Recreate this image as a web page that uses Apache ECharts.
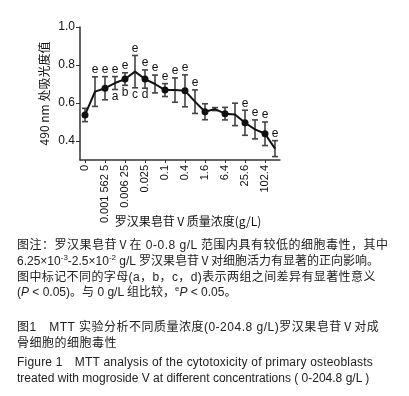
<!DOCTYPE html>
<html>
<head>
<meta charset="utf-8">
<script src="https://cdn.jsdelivr.net/npm/echarts@6/dist/echarts.min.js"></script>
<style>
  body { margin: 0; background: #fff; }
  #wrap { position: relative; width: 409px; height: 396px; }
  #chart { position: absolute; left: 0; top: 0; width: 409px; height: 396px; }
  .cap { position: absolute; left: 17px; font-family: "Liberation Sans", "Noto Sans CJK SC", sans-serif; font-size: 12px; color: #222; white-space: nowrap; line-height: 16px; }
  .cap sup { font-size: 8px; line-height: 0; }
</style>
</head>
<body>
<div id="wrap">
  <div id="chart"></div>
  <div class="cap" style="top:237px; letter-spacing:0.5px">图注：罗汉果皂苷Ⅴ在 0-0.8 g/L 范围内具有较低的细胞毒性，其中</div>
  <div class="cap" style="top:253px">6.25×10<sup>-3</sup>-2.5×10<sup>-2</sup> g/L 罗汉果皂苷Ⅴ对细胞活力有显著的正向影响。</div>
  <div class="cap" style="top:269px; letter-spacing:0.4px">图中标记不同的字母(a，b，c，d)表示两组之间差异有显著性意义</div>
  <div class="cap" style="top:284px">(<i>P</i> &lt; 0.05)。与 0 g/L 组比较，<sup>e</sup><i>P</i> &lt; 0.05。</div>
  <div class="cap" style="top:319px; letter-spacing:0.5px">图1　MTT 实验分析不同质量浓度(0-204.8 g/L)罗汉果皂苷Ⅴ对成</div>
  <div class="cap" style="top:335px; letter-spacing:0.5px">骨细胞的细胞毒性</div>
  <div class="cap" style="top:354px; letter-spacing:0.2px">Figure 1　MTT analysis of the cytotoxicity of primary osteoblasts</div>
  <div class="cap" style="top:370px">treated with mogroside V at different concentrations ( 0-204.8 g/L )</div>
</div>
<script>
// concentrations (g/L), every other one is labelled on the axis
const categories = ['0', '0.000 781 25', '0.001 562 5', '0.003 125', '0.006 25', '0.012 5', '0.025', '0.05',
  '0.1', '0.2', '0.4', '0.8', '1.6', '3.2', '6.4', '12.8', '25.6', '51.2', '102.4', '204.8'];
const meanVals = [0.537, 0.660, 0.678, 0.705, 0.726, 0.765, 0.726, 0.700, 0.668, 0.668,
  0.664, 0.607, 0.554, 0.568, 0.544, 0.540, 0.496, 0.461, 0.438, 0.360];
const errVals = [0.035, 0.078, 0.061, 0.034, 0.033, 0.085, 0.048, 0.047, 0.034, 0.064,
  0.084, 0.062, 0.042, 0.008, 0.033, 0.059, 0.066, 0.050, 0.062, 0.042];
const topLetters = ['', 'e', 'e', 'e', 'e', 'e', 'e', 'e', 'e', 'e', 'e', 'e', '', '', '', '', 'e', 'e', 'e', 'e'];
const bottomLetters = ['', '', '', 'a', 'b', 'c', 'd', '', '', '', '', '', '', '', '', '', '', '', '', ''];
const yTicks = [0.4, 0.6, 0.8, 1.0];

const chart = echarts.init(document.getElementById('chart'));
const font = '"Liberation Sans", Arial, sans-serif';

function renderErr(params, api) {
  const i = api.value(0), m = api.value(1), e = api.value(2);
  const top = api.coord([i, m + e]);
  const bot = api.coord([i, m - e]);
  const w = 3;
  const st = { stroke: '#444', lineWidth: 1.6 };
  const kids = [
    { type: 'line', shape: { x1: top[0], y1: top[1], x2: bot[0], y2: bot[1] }, style: st },
    { type: 'line', shape: { x1: top[0] - w, y1: top[1], x2: top[0] + w, y2: top[1] }, style: st },
    { type: 'line', shape: { x1: bot[0] - w, y1: bot[1], x2: bot[0] + w, y2: bot[1] }, style: st }
  ];
  const t = topLetters[params.dataIndex], b = bottomLetters[params.dataIndex];
  if (t) kids.push({ type: 'text', style: { text: t, x: top[0], y: top[1] - 1, align: 'center', verticalAlign: 'bottom', fill: '#111', font: '12px ' + font } });
  if (b) kids.push({ type: 'text', style: { text: b, x: bot[0], y: bot[1] + 1, align: 'center', verticalAlign: 'top', fill: '#111', font: '12px ' + font } });
  return { type: 'group', children: kids };
}

chart.setOption({
  backgroundColor: '#fff',
  animation: false,
  grid: { left: 80, right: 129, top: 27, bottom: 236 },
  xAxis: {
    type: 'category',
    data: categories,
    name: '罗汉果皂苷Ⅴ质量浓度(g/L)',
    nameLocation: 'middle',
    nameGap: 55,
    nameMoveOverlap: false,
    nameTextStyle: { color: '#111', fontSize: 12, fontFamily: '"Noto Sans CJK SC", sans-serif', padding: [0, 0, 0, 16] },
    axisLine: { lineStyle: { color: '#333', width: 1.5 } },
    axisTick: { show: true, length: 3, interval: 1, alignWithLabel: true, lineStyle: { color: '#333' } },
    axisLabel: { interval: 1, rotate: 90, margin: 5, color: '#111', fontSize: 11, fontFamily: font }
  },
  yAxis: {
    type: 'value',
    min: 0.3,
    max: 1.0,
    name: '490 nm 处吸光度值',
    nameLocation: 'middle',
    nameGap: 30,
    nameMoveOverlap: false,
    nameTextStyle: { color: '#111', fontSize: 12, fontFamily: '"Noto Sans CJK SC", sans-serif' },
    axisLine: { show: true, lineStyle: { color: '#333', width: 1.5 } },
    axisTick: { show: true, length: 4, customValues: yTicks, lineStyle: { color: '#333' } },
    axisLabel: { customValues: yTicks, margin: 5, color: '#111', fontSize: 12, fontFamily: font, formatter: v => v.toFixed(1) },
    splitLine: { show: false }
  },
  series: [
    {
      type: 'custom',
      renderItem: renderErr,
      data: meanVals.map((m, i) => [i, m, errVals[i]]),
      z: 1
    },
    {
      type: 'line',
      data: meanVals,
      symbol: 'circle',
      symbolSize: 7,
      lineStyle: { color: '#111', width: 2 },
      itemStyle: { color: '#111' },
      z: 3
    }
  ]
});
</script>
</body>
</html>
